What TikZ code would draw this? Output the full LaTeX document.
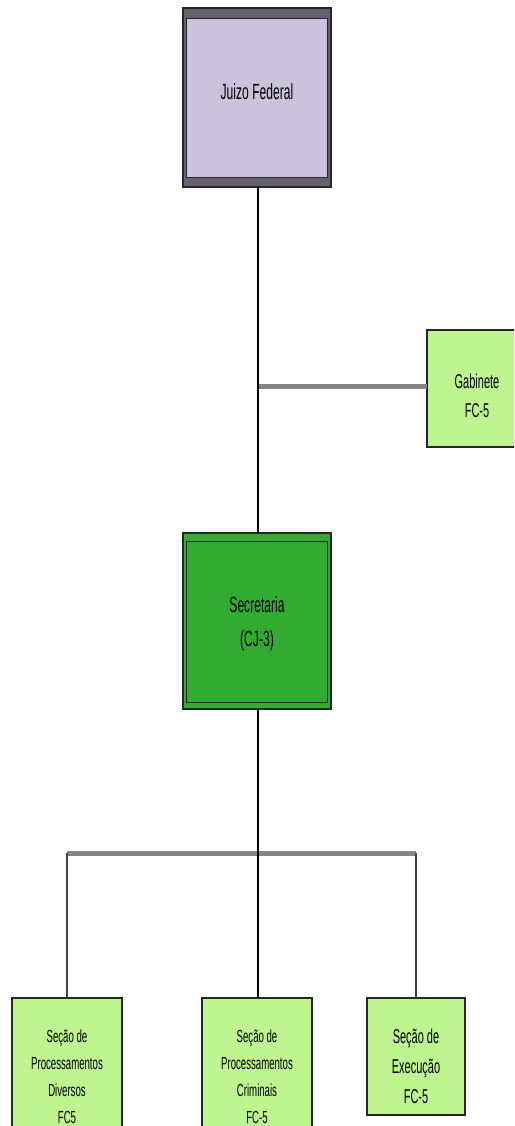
\documentclass[tikz,border=0pt]{standalone}
\usepackage{fontspec}
\setmainfont{Liberation Sans}[FakeStretch=0.55]
\definecolor{lav}{HTML}{CBC3DB}
\definecolor{band}{HTML}{67616F}
\definecolor{secg}{HTML}{31AC31}
\definecolor{lg}{HTML}{BEF590}
\definecolor{busgray}{HTML}{858585}
\begin{document}
\begin{tikzpicture}[x=1pt,y=-1pt,
  box/.style={draw=black!85, line width=1.4pt, inner sep=0pt, outer sep=0pt},
  txt/.style={align=center, inner sep=0pt, text=black},
  conn/.style={draw=black, line width=1.4pt},
  drop/.style={draw=black!75, line width=1.4pt},
  bus/.style={draw=busgray, line width=5pt}]
\useasboundingbox (0,0) rectangle (514,1126);
\clip (0,0) rectangle (514,1126);
% Juizo Federal
\node[box, fill=band, minimum width=148pt, minimum height=179pt] (juizo) at (257,97.5) {};
\node[box, fill=lav, line width=0.8pt, minimum width=141pt, minimum height=159pt] (juizoin) at (257,97.5) {};
\node[txt, font=\fontsize{22}{26}\selectfont] (juizotxt) at (257,92) {Juizo Federal};
% Gabinete
\node[box, fill=lg, minimum width=100pt, minimum height=117pt] (gab) at (477,388.5) {};
\node[txt, font=\fontsize{20}{29}\selectfont] (gabtxt) at (477,396) {Gabinete\\FC-5};
% Secretaria
\node[box, fill=secg, minimum width=148pt, minimum height=176pt] (sec) at (257,621) {};
\node[box, fill=secg, line width=0.9pt, minimum width=141pt, minimum height=161pt] (secin) at (257,621.5) {};
\node[txt, font=\fontsize{22}{34}\selectfont] (sectxt) at (257,624) {Secretaria\\(CJ-3)};
% bottom boxes
\node[box, fill=lg, minimum width=110pt, minimum height=142pt] (b1) at (67,1069) {};
\node[txt, font=\fontsize{17.5}{27}\selectfont] (b1txt) at (67,1077) {Seção de\\Processamentos\\Diversos\\FC5};
\node[box, fill=lg, minimum width=110pt, minimum height=142pt] (b2) at (257,1069) {};
\node[txt, font=\fontsize{17.5}{27}\selectfont] (b2txt) at (257,1077) {Seção de\\Processamentos\\Criminais\\FC-5};
\node[box, fill=lg, minimum width=98pt, minimum height=117pt] (b3) at (416,1056.5) {};
\node[txt, font=\fontsize{20}{30}\selectfont] (b3txt) at (416,1066) {Seção de\\Execução\\FC-5};
% connectors
\coordinate (gj) at (258,386);
\coordinate (bl) at (67,853);
\coordinate (br) at (416,853);
\draw[bus] (gj) -- (gj -| gab.west);
\draw[bus] (bl) -- (br);
\draw[conn] (juizo.south -| gj) -- (sec.north -| gj);
\draw[conn] (sec.south -| gj) -- (b2.north -| gj);
\draw[drop] (bl) -- (b1.north);
\draw[drop] (br) -- (b3.north);
\end{tikzpicture}
\end{document}
